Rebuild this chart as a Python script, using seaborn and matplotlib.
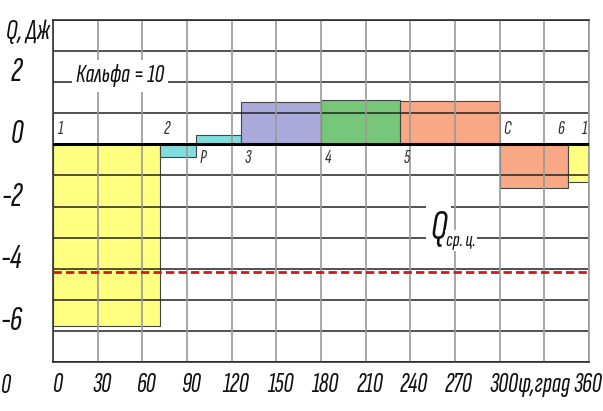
import numpy as np
import seaborn as sns
import matplotlib.pyplot as plt
from matplotlib import transforms

# ---- data ----
phi_edges = [0, 72, 96, 126, 180, 233, 300, 346, 360]       # град
q_vals = [-5.84, -0.4, 0.3, 1.35, 1.42, 1.39, -1.39, -1.22]  # Дж
bar_colors = ["#ffff80", "#80dede", "#80dede", "#aaaadb",
              "#78c67a", "#f8a884", "#f8a884", "#ffff80"]
q_mean = -4.1

point_names = ["1", "2", "P", "3", "4", "5", "C", "6", "1"]
point_phi = [0, 72, 96, 126, 180, 233, 300, 346, 360]
point_above = [True, True, False, False, False, False, True, True, True]

x_ticks = list(range(0, 361, 30))
x_ticklabels = ["0", "30", "60", "90", "120", "150", "180", "210",
                "240", "270", "300", "φ,град", "360"]
y_ticks = [2, 0, -2, -4, -6]

sns.set_theme(style="white")
plt.rcParams["font.family"] = ["Sofia Sans Extra Condensed", "DejaVu Sans"]
plt.rcParams["font.style"] = "italic"
plt.rcParams["font.weight"] = "light"

fig = plt.figure(figsize=(6.03, 4.11), dpi=100)
ax = fig.add_axes([53 / 603, 49 / 411, 536 / 603, 342 / 411])

# ступенчатые площадки Q(φ)
widths = np.diff(phi_edges)
ax.bar(phi_edges[:-1], q_vals, width=widths, align="edge",
       color=bar_colors, edgecolor="#444444", linewidth=0.8, zorder=1)

# сетка поверх площадок
for v in range(-7, 5):
    ax.axhline(v, color="#222222", lw=1.1, zorder=2)
for x in x_ticks:
    ax.axvline(x, color="#9a9a9a", lw=1.2, zorder=2)
ax.axhline(0, color="black", lw=2.2, zorder=3)

# среднее за цикл
sns.lineplot(x=[0, 360], y=[q_mean, q_mean], ax=ax, color="#d01818",
             lw=2, linestyle=(0, (3, 1.5)), zorder=4)

ax.set_xlim(0, 360)
ax.set_ylim(-7, 4)

for sp in ["left", "bottom", "top"]:
    ax.spines[sp].set_color("#222222")
    ax.spines[sp].set_linewidth(1.1)
ax.spines["right"].set_color("#9a9a9a")
ax.spines["right"].set_linewidth(1.2)

ax.set_xticks(x_ticks)
ax.set_xticklabels(x_ticklabels, fontsize=20)
ax.tick_params(axis="x", length=0, pad=8)
ax.set_yticks(y_ticks)
ax.set_yticklabels([str(v) for v in y_ticks], fontsize=25)
ax.tick_params(axis="y", length=0, pad=22)
shift = transforms.ScaledTranslation(0, 13 / 100, fig.dpi_scale_trans)
for lbl in ax.get_yticklabels():
    lbl.set_transform(lbl.get_transform() + shift)
xlabels = ax.get_xticklabels()
n = len(xlabels)
for i, lbl in enumerate(xlabels):
    dx = 4
    if i == n - 2:
        dx = -1
    if i == n - 1:
        dx = -1
    lbl.set_transform(lbl.get_transform()
                      + transforms.ScaledTranslation(dx / 100, 0, fig.dpi_scale_trans))
for lbl in xlabels + ax.get_yticklabels():
    lbl.set_color("#111111")

# лишний "0" слева от оси
ax.text(-32, -7.78, "0", fontsize=20, ha="center", va="center",
        color="#111111", clip_on=False)

# подпись оси Q
ax.text(-2, 3.62, "Q, Дж", fontsize=21, ha="right", va="center",
        color="#111111", clip_on=False)

# номера точек
for name, phi, up in zip(point_names, point_phi, point_above):
    dx = 2.5
    if name == "6":
        dx = -7
    if phi == 360:
        dx = -5
    y = 0.5 if up else -0.45
    ax.text(phi + dx, y, name, fontsize=14, ha="left", va="center",
            color="#333333", zorder=5)

ax.text(45, 2.2, "Кальфа = 10", fontsize=19, ha="center", va="center",
        color="#111111", zorder=5,
        bbox=dict(facecolor="white", edgecolor="none", pad=3))

ax.text(259, -2.7, "Q", fontsize=30, ha="center", va="center",
        color="#111111", zorder=5,
        bbox=dict(facecolor="white", edgecolor="none", pad=3))
ax.text(264, -3.1, "ср. ц.", fontsize=15, ha="left", va="center",
        color="#111111", zorder=5,
        bbox=dict(facecolor="white", edgecolor="none", pad=1))

fig.savefig("out.png", dpi=100)
